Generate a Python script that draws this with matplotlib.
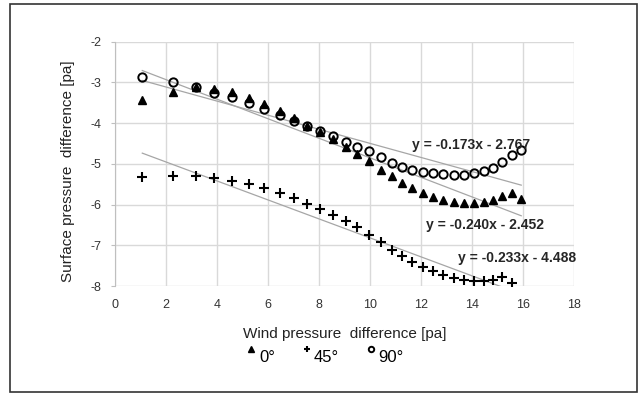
import numpy as np
import matplotlib
matplotlib.use("Agg")
import matplotlib.pyplot as plt
from matplotlib.patches import Rectangle
from matplotlib.lines import Line2D
from matplotlib.legend_handler import HandlerLine2D

plt.rcParams['font.family'] = ['Liberation Sans', 'DejaVu Sans']
plt.rcParams['axes.unicode_minus'] = False

# wind pressure difference [pa]
wind_dp = [1.07, 2.26, 3.16, 3.90, 4.60, 5.26, 5.86, 6.47, 7.02, 7.54,
           8.04, 8.56, 9.05, 9.50, 9.97, 10.42, 10.85, 11.24, 11.66, 12.06,
           12.48, 12.88, 13.29, 13.69, 14.08, 14.47, 14.84, 15.19, 15.56, 15.93]

# surface pressure difference [pa] for each wind angle
surf_0 = [-3.42, -3.24, -3.12, -3.15, -3.23, -3.38, -3.53, -3.70, -3.88, -4.06,
          -4.22, -4.39, -4.58, -4.76, -4.93, -5.14, -5.30, -5.46, -5.60, -5.71,
          -5.82, -5.89, -5.93, -5.96, -5.96, -5.93, -5.89, -5.79, -5.71, -5.87]
surf_45 = [-5.33, -5.29, -5.29, -5.34, -5.42, -5.50, -5.60, -5.71, -5.85, -5.98,
           -6.12, -6.26, -6.41, -6.56, -6.74, -6.92, -7.12, -7.27, -7.41, -7.53,
           -7.63, -7.72, -7.80, -7.86, -7.88, -7.88, -7.86, -7.77, -7.92]
surf_90 = [-2.86, -2.98, -3.12, -3.25, -3.37, -3.50, -3.65, -3.80, -3.94, -4.06,
           -4.19, -4.32, -4.46, -4.58, -4.68, -4.83, -4.97, -5.07, -5.14, -5.19,
           -5.23, -5.25, -5.27, -5.27, -5.23, -5.18, -5.11, -4.95, -4.78, -4.67]

# linear trendlines (slope, intercept)
fit_0 = (-0.240, -2.452)
fit_45 = (-0.233, -4.488)
fit_90 = (-0.173, -2.767)

series_labels = ["0°", "45°", "90°"]


class RaisedHandler(HandlerLine2D):
    # legend markers sit above the text centre line
    def create_artists(self, legend, orig_handle, xdescent, ydescent,
                       width, height, fontsize, trans):
        return super().create_artists(legend, orig_handle, xdescent,
                                      ydescent - 1.3 * height, width, height,
                                      fontsize, trans)


fig = plt.figure(figsize=(6.4, 3.94), dpi=100)
ax = fig.add_axes([0.1797, 0.2741, 0.7172, 0.6201])

x_all = np.array(wind_dp)
series = [
    (surf_0, fit_0, dict(marker="^", color="black", ms=6, ls="none")),
    (surf_45, fit_45, dict(marker="+", color="black", ms=6.5, mew=1.5, ls="none")),
    (surf_90, fit_90, dict(marker="o", color="black", mfc="none", ms=6, mew=1.4, ls="none")),
]

handles = []
for (ys, (m, b), style), lab in zip(series, series_labels):
    xs = x_all[:len(ys)]
    xt = np.array([xs.min(), xs.max()])
    ax.plot(xt, m * xt + b, color="#a6a6a6", lw=0.9, zorder=2)
    h, = ax.plot(xs, ys, zorder=3, label=lab, **style)
    handles.append(h)

# trendline equations
eq_style = dict(fontsize=10, fontweight="bold", color="#262626", ha="center", va="center")
ax.text(13.96, -4.54, "y = -0.173x - 2.767", **eq_style)
ax.text(14.50, -6.50, "y = -0.240x - 2.452", **eq_style)
ax.text(15.76, -7.31, "y = -0.233x - 4.488", **eq_style)

ax.set_xlim(0, 18)
ax.set_ylim(-8, -2)
ax.set_xticks(np.arange(0, 19, 2))
ax.set_yticks(np.arange(-8, -1, 1))
ax.grid(True, color="#d9d9d9", lw=1.0)
ax.set_axisbelow(True)
for s in ["top", "right", "bottom"]:
    ax.spines[s].set_visible(False)
ax.spines["left"].set_color("#bfbfbf")
ax.tick_params(axis="x", length=0, pad=9, labelsize=9, labelcolor="#333333")
ax.tick_params(axis="y", length=3, color="#bfbfbf", pad=7, labelsize=9, labelcolor="#333333")

ax.set_xlabel("Wind pressure  difference [pa]", fontsize=11, color="#222222")
ax.set_ylabel("Surface pressure  difference [pa]", fontsize=11, color="#222222")
ax.xaxis.set_label_coords(0.5, -0.168)
ax.yaxis.set_label_coords(-0.087, 0.47)

fig.legend(handles=handles, labels=series_labels, loc="center",
           bbox_to_anchor=(325 / 640, 1 - 358 / 394), ncol=3, frameon=False,
           fontsize=12, markerscale=0.65, handlelength=0.6, handletextpad=0.15,
           columnspacing=1.6, handler_map={Line2D: RaisedHandler()})

# outer frame
fig.patches.append(Rectangle((10 / 640, 2 / 394), 627 / 640, 388 / 394,
                             transform=fig.transFigure, fill=False,
                             edgecolor="#333333", lw=1.2))

fig.savefig("out.png", dpi=100)
